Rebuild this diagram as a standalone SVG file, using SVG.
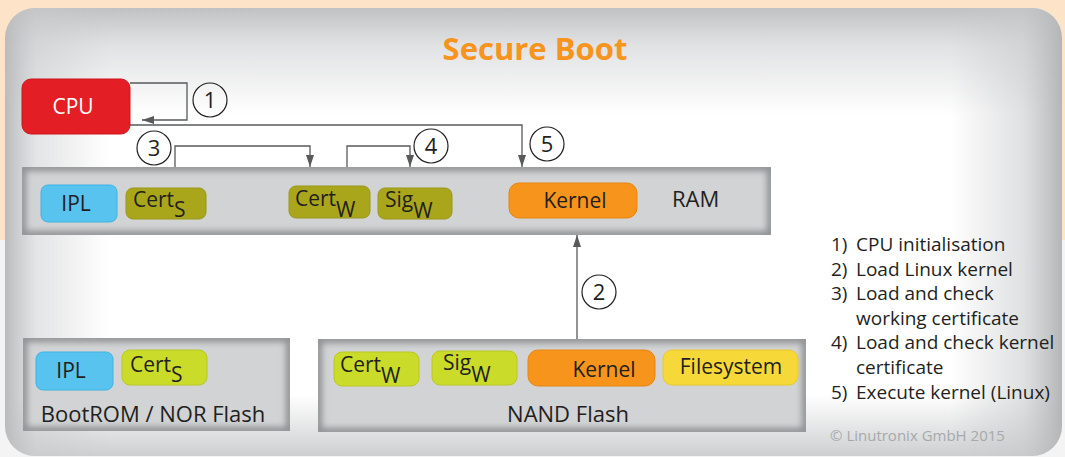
<svg xmlns="http://www.w3.org/2000/svg" width="1065" height="457" viewBox="0 0 1065 457">
  <defs>
    <!-- edge shading of the main panel -->
    <linearGradient id="shadeTop" gradientUnits="userSpaceOnUse" x1="0" y1="8" x2="0" y2="115">
      <stop offset="0" stop-color="#bfc1c3" stop-opacity="1"/>
      <stop offset="0.35" stop-color="#c8cacc" stop-opacity="0.55"/>
      <stop offset="1" stop-color="#c8cacc" stop-opacity="0"/>
    </linearGradient>
    <linearGradient id="shadeLeft" gradientUnits="userSpaceOnUse" x1="5" y1="0" x2="110" y2="0">
      <stop offset="0" stop-color="#b9bbbd" stop-opacity="1"/>
      <stop offset="0.3" stop-color="#c8cacc" stop-opacity="0.5"/>
      <stop offset="1" stop-color="#c8cacc" stop-opacity="0"/>
    </linearGradient>
    <linearGradient id="shadeRight" gradientUnits="userSpaceOnUse" x1="1062" y1="0" x2="950" y2="0">
      <stop offset="0" stop-color="#b3b5b7" stop-opacity="1"/>
      <stop offset="0.35" stop-color="#c6c8ca" stop-opacity="0.55"/>
      <stop offset="1" stop-color="#c6c8ca" stop-opacity="0"/>
    </linearGradient>
    <linearGradient id="shadeBottom" gradientUnits="userSpaceOnUse" x1="0" y1="456" x2="0" y2="395">
      <stop offset="0" stop-color="#cdcfd0" stop-opacity="1"/>
      <stop offset="1" stop-color="#cdcfd0" stop-opacity="0"/>
    </linearGradient>
    <clipPath id="clipPanel"><rect x="5" y="8" width="1057" height="448" rx="30"/></clipPath>
    <filter id="soft" x="-10%" y="-10%" width="120%" height="120%">
      <feGaussianBlur stdDeviation="3"/>
    </filter>
    <filter id="chipSoft" x="-5%" y="-10%" width="110%" height="120%">
      <feGaussianBlur stdDeviation="0.6"/>
    </filter>
    <clipPath id="clipRam"><rect x="22" y="167" width="749" height="68"/></clipPath>
    <clipPath id="clipRom"><rect x="23" y="338" width="267" height="93"/></clipPath>
    <clipPath id="clipNand"><rect x="318" y="339" width="488" height="93"/></clipPath>
    <marker id="arrow" viewBox="0 0 12 8" refX="12" refY="4" markerWidth="12" markerHeight="8" markerUnits="userSpaceOnUse" orient="auto">
      <path d="M0,0 L12,4 L0,8 Z" fill="#58595b"/>
    </marker>
    <style>
      .txt { font-family: "Open Sans", "Liberation Sans", sans-serif; fill: #231f20; }
      .chip { font-size: 21px; }
      .mem { fill: #d1d3d4; }
      .memEdge { fill: none; stroke: #8d8f92; stroke-width: 8; }
      .wire { fill: none; stroke: #58595b; stroke-width: 1.3; }
      .step { fill: none; stroke: #231f20; stroke-width: 1.2; }
      .stepNum { font-size: 22px; text-anchor: middle; }
      .blue { fill: #58c3ef; stroke: #3fb2e4; stroke-width: 1; }
      .olive { fill: #aaa61f; stroke: #9a9719; stroke-width: 1; }
      .lime { fill: #cbdb2a; stroke: #b9c822; stroke-width: 1; }
      .orange { fill: #f7941d; stroke: #e8850f; stroke-width: 1; }
      .yellow { fill: #f6d937; stroke: #e9c92b; stroke-width: 1; }
      .legend { font-size: 19px; }
    </style>
  </defs>

  <!-- page background -->
  <rect x="0" y="0" width="1065" height="457" fill="#f4f4f4"/>
  <rect x="0" y="0" width="1065" height="240" fill="#fde4c8"/>

  <!-- main panel -->
  <rect x="5" y="8" width="1057" height="448" rx="30" fill="#ffffff"/>
  <g clip-path="url(#clipPanel)">
    <rect x="5" y="8" width="1057" height="110" fill="url(#shadeTop)"/>
    <rect x="5" y="395" width="1057" height="61" fill="url(#shadeBottom)"/>
    <rect x="5" y="8" width="110" height="448" fill="url(#shadeLeft)"/>
    <rect x="950" y="8" width="112" height="448" fill="url(#shadeRight)"/>
  </g>

  <!-- title -->
  <text x="535" y="60" text-anchor="middle" style="font-family: 'Open Sans', 'Liberation Sans', sans-serif; font-weight: 700; font-size: 31px; fill: #f7941d;">Secure Boot</text>

  <!-- connectors -->
  <g id="connectors">
    <polyline class="wire" points="130,83 187,83 187,120 142,120" marker-end="url(#arrow)"/>
    <polyline class="wire" points="130,125 522,125 522,167" marker-end="url(#arrow)"/>
    <polyline class="wire" points="175,167 175,146 310,146 310,167" marker-end="url(#arrow)"/>
    <polyline class="wire" points="347,167 347,146 410,146 410,167" marker-end="url(#arrow)"/>
    <line class="wire" x1="577" y1="339" x2="577" y2="235" marker-end="url(#arrow)"/>
  </g>

  <!-- step markers -->
  <g id="steps">
    <circle class="step" cx="210" cy="100" r="17"/>
    <text class="txt stepNum" x="210" y="108">1</text>
    <circle class="step" cx="599" cy="292" r="17"/>
    <text class="txt stepNum" x="599" y="300">2</text>
    <circle class="step" cx="154" cy="148" r="17"/>
    <text class="txt stepNum" x="154" y="156">3</text>
    <circle class="step" cx="431" cy="146" r="17"/>
    <text class="txt stepNum" x="431" y="154">4</text>
    <circle class="step" cx="547" cy="144" r="17"/>
    <text class="txt stepNum" x="547" y="152">5</text>
  </g>

  <!-- CPU -->
  <g id="cpu">
    <rect x="22" y="79" width="108" height="55" rx="9" fill="#e31e24" stroke="#cc161c" stroke-width="1"/>
    <text class="txt" x="73" y="114" text-anchor="middle" style="font-size: 21px; fill: #ffffff;">CPU</text>
  </g>

  <!-- RAM -->
  <g id="ram">
    <rect class="mem" x="22" y="167" width="749" height="68"/>
    <rect class="memEdge" x="22" y="167" width="749" height="68" filter="url(#soft)" clip-path="url(#clipRam)"/>
    <text class="txt" x="672" y="207" style="font-size: 22px;">RAM</text>
    <g id="ram-ipl">
      <rect class="blue" x="41" y="185" width="76" height="37" rx="7" filter="url(#chipSoft)"/>
      <text class="txt chip" x="76" y="211" text-anchor="middle">IPL</text>
    </g>
    <g id="ram-cert-s">
      <rect class="olive" x="126" y="188" width="80" height="31" rx="7" filter="url(#chipSoft)"/>
      <text class="txt chip" x="133" y="207">Cert<tspan dy="10">S</tspan></text>
    </g>
    <g id="ram-cert-w">
      <rect class="olive" x="289" y="186" width="81" height="32" rx="7" filter="url(#chipSoft)"/>
      <text class="txt chip" x="295" y="206">Cert<tspan dy="11">W</tspan></text>
    </g>
    <g id="ram-sig-w">
      <rect class="olive" x="378" y="188" width="74" height="31" rx="7" filter="url(#chipSoft)"/>
      <text class="txt chip" x="385" y="207">Sig<tspan dy="11">W</tspan></text>
    </g>
    <g id="ram-kernel">
      <rect class="orange" x="509" y="183" width="128" height="35" rx="10" filter="url(#chipSoft)"/>
      <text class="txt chip" x="575" y="208" text-anchor="middle">Kernel</text>
    </g>
  </g>

  <!-- BootROM / NOR Flash -->
  <g id="bootrom">
    <rect class="mem" x="23" y="338" width="267" height="93"/>
    <rect class="memEdge" x="23" y="338" width="267" height="93" filter="url(#soft)" clip-path="url(#clipRom)"/>
    <g id="rom-ipl">
      <rect class="blue" x="36" y="352" width="77" height="38" rx="7" filter="url(#chipSoft)"/>
      <text class="txt chip" x="71" y="378" text-anchor="middle">IPL</text>
    </g>
    <g id="rom-cert-s">
      <rect class="lime" x="122" y="350" width="85" height="35" rx="8" filter="url(#chipSoft)"/>
      <text class="txt chip" x="130" y="372">Cert<tspan dy="10">S</tspan></text>
    </g>
    <text class="txt" x="153" y="422" text-anchor="middle" style="font-size: 22px;">BootROM / NOR Flash</text>
  </g>

  <!-- NAND Flash -->
  <g id="nand">
    <rect class="mem" x="318" y="339" width="488" height="93"/>
    <rect class="memEdge" x="318" y="339" width="488" height="93" filter="url(#soft)" clip-path="url(#clipNand)"/>
    <g id="nand-cert-w">
      <rect class="lime" x="334" y="352" width="85" height="34" rx="8" filter="url(#chipSoft)"/>
      <text class="txt chip" x="340" y="372">Cert<tspan dy="11">W</tspan></text>
    </g>
    <g id="nand-sig-w">
      <rect class="lime" x="432" y="351" width="85" height="34" rx="8" filter="url(#chipSoft)"/>
      <text class="txt chip" x="443" y="370">Sig<tspan dy="12">W</tspan></text>
    </g>
    <g id="nand-kernel">
      <rect class="orange" x="528" y="350" width="127" height="36" rx="10" filter="url(#chipSoft)"/>
      <text class="txt chip" x="604" y="377" text-anchor="middle">Kernel</text>
    </g>
    <g id="nand-filesystem">
      <rect class="yellow" x="663" y="350" width="135" height="35" rx="9" filter="url(#chipSoft)"/>
      <text class="txt chip" x="731" y="374" text-anchor="middle">Filesystem</text>
    </g>
    <text class="txt" x="568" y="422" text-anchor="middle" style="font-size: 22px;">NAND Flash</text>
  </g>

  <!-- legend -->
  <g id="legend" class="txt legend">
    <text x="831" y="251">1)</text><text x="856" y="251">CPU initialisation</text>
    <text x="831" y="276">2)</text><text x="856" y="276">Load Linux kernel</text>
    <text x="831" y="300">3)</text><text x="856" y="300">Load and check</text>
    <text x="856" y="325">working certificate</text>
    <text x="831" y="349">4)</text><text x="856" y="349">Load and check kernel</text>
    <text x="856" y="374">certificate</text>
    <text x="831" y="399">5)</text><text x="856" y="399">Execute kernel (Linux)</text>
  </g>
  <text class="txt" x="830" y="441" style="font-size: 15px; fill: #a7a9ac;">© Linutronix GmbH 2015</text>
</svg>
